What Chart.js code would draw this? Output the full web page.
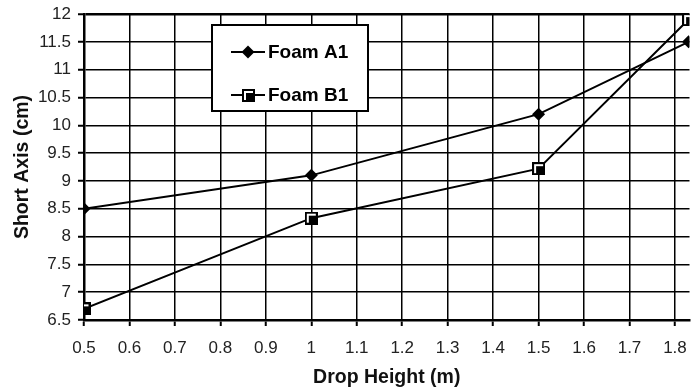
<!DOCTYPE html>
<html>
<head>
<meta charset="utf-8">
<script src="https://cdn.jsdelivr.net/npm/chart.js@4/dist/chart.umd.min.js"></script>
<style>
  html, body { margin: 0; padding: 0; background: #fff; }
  #wrap { width: 698px; height: 392px; }
</style>
</head>
<body>
<div id="wrap"><canvas id="chart" width="698" height="392"></canvas></div>
<script>
const dropHeights = [0.5, 1.0, 1.5, 1.83];
const foamA1 = [8.5, 9.1, 10.2, 11.5];
const foamB1 = [6.7, 8.33, 9.22, 11.9];
const seriesNames = ['Foam A1', 'Foam B1'];

const FONT = 'Arial, "Liberation Sans", sans-serif';

// square marker: black frame, white inner corner, black fill
function squareMarker() {
  const c = document.createElement('canvas');
  c.width = 13; c.height = 13;
  const g = c.getContext('2d');
  g.fillStyle = '#000';
  g.fillRect(0, 0, 13, 13);
  g.fillStyle = '#fff';
  g.fillRect(2, 2, 9, 9);
  g.fillStyle = '#000';
  g.fillRect(4, 4, 7, 7);
  return c;
}
const sq = squareMarker();

const toPoints = (ys) => ys.map((y, i) => ({ x: dropHeights[i], y }));
const fmt = (v) => String(+Number(v).toFixed(2));

// legend box drawn over the plot
const legendBox = {
  id: 'legendBox',
  afterDraw(chart) {
    const ctx = chart.ctx;
    const x0 = 212, y0 = 25, w = 156, h = 86;
    ctx.save();
    ctx.fillStyle = '#fff';
    ctx.fillRect(x0, y0, w, h);
    ctx.strokeStyle = '#000';
    ctx.lineWidth = 2;
    ctx.strokeRect(x0, y0, w, h);

    const rows = [52, 95];
    ctx.font = 'bold 19px ' + FONT;
    ctx.textBaseline = 'middle';
    rows.forEach((ry, i) => {
      ctx.beginPath();
      ctx.moveTo(231, ry);
      ctx.lineTo(265, ry);
      ctx.lineWidth = 2;
      ctx.stroke();
      if (i === 0) {
        ctx.beginPath();
        ctx.moveTo(248, ry - 6.5);
        ctx.lineTo(254.5, ry);
        ctx.lineTo(248, ry + 6.5);
        ctx.lineTo(241.5, ry);
        ctx.closePath();
        ctx.fillStyle = '#000';
        ctx.fill();
      } else {
        ctx.drawImage(sq, 242, ry - 6);
      }
      ctx.fillStyle = '#000';
      ctx.fillText(seriesNames[i], 268, ry + 1);
    });
    ctx.restore();
  }
};

new Chart(document.getElementById('chart'), {
  type: 'scatter',
  data: {
    datasets: [{
      label: seriesNames[0],
      data: toPoints(foamA1),
      showLine: true,
      borderColor: '#000',
      borderWidth: 2,
      pointStyle: 'rectRot',
      pointRadius: 6.5,
      pointBackgroundColor: '#000',
      pointBorderColor: '#000',
      pointBorderWidth: 0
    }, {
      label: seriesNames[1],
      data: toPoints(foamB1),
      showLine: true,
      borderColor: '#000',
      borderWidth: 2,
      pointStyle: sq,
      pointRadius: 6.5
    }]
  },
  options: {
    responsive: false,
    animation: false,
    devicePixelRatio: 1,
    layout: { padding: { top: 14, right: 0, left: 0, bottom: 0 } },
    plugins: {
      legend: { display: false },
      tooltip: { enabled: false }
    },
    scales: {
      x: {
        type: 'linear',
        min: 0.5,
        max: 1.832,
        afterFit(s) { s.height = 72; s.paddingLeft = 0; s.paddingRight = 0; },
        ticks: {
          stepSize: 0.1,
          includeBounds: false,
          color: '#222',
          padding: 12,
          maxRotation: 0,
          callback: fmt,
          font: { family: FONT, size: 17 }
        },
        grid: { color: '#000', lineWidth: 1.5, tickLength: 6, tickColor: '#000', tickWidth: 2 },
        border: { color: '#000', width: 2.5 },
        title: {
          display: true,
          text: 'Drop Height (m)',
          color: '#111',
          font: { family: FONT, size: 19.5, weight: 'bold' },
          padding: { top: 0, bottom: 3 }
        }
      },
      y: {
        min: 6.5,
        max: 12,
        afterFit(s) { s.width = 84; s.paddingTop = 0; s.paddingBottom = 0; },
        ticks: {
          stepSize: 0.5,
          color: '#222',
          padding: 7,
          callback: fmt,
          font: { family: FONT, size: 17 }
        },
        grid: {
          color: '#000',
          lineWidth: (c) => (c.tick && c.tick.value === 12 ? 2.5 : 1.5),
          tickLength: 6,
          tickColor: '#000',
          tickWidth: 2
        },
        border: { color: '#000', width: 2.5 },
        title: {
          display: true,
          text: 'Short Axis (cm)',
          color: '#111',
          font: { family: FONT, size: 19.5, weight: 'bold' },
          padding: { top: 11, bottom: 0 }
        }
      }
    }
  },
  plugins: [legendBox]
});
</script>
</body>
</html>
